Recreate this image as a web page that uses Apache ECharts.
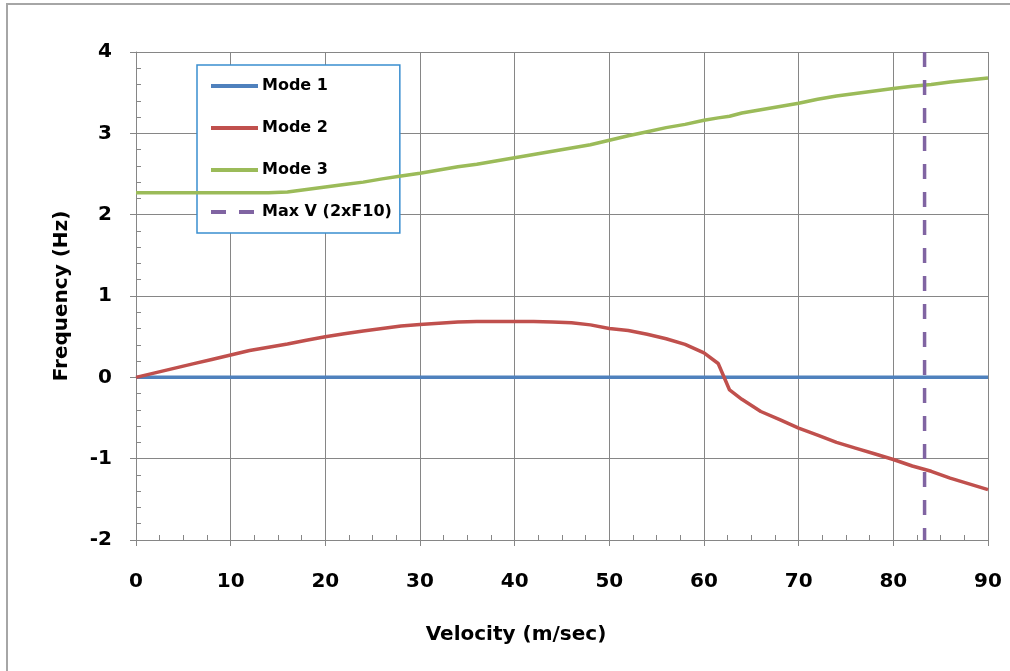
<!DOCTYPE html>
<html lang="en">
  <head>
    <meta charset="UTF-8" />
    <title>Frequency vs Velocity</title>
    <style>
      html,
      body {
        margin: 0;
        padding: 0;
        background: #fff;
      }

      #main {
        width: 1010px;
        height: 671px;
      }
    </style>
  </head>

  <body>
    <div id="main"></div>

    <script src="https://cdn.jsdelivr.net/npm/echarts@6/dist/echarts.min.js"></script>
    <script>
      // velocity samples (m/sec), shared by the three modes
      var velocity = [
        0, 2, 4, 6, 8, 10, 12, 14, 16, 18, 20, 22, 24, 26, 28, 30, 32, 34, 36,
        38, 40, 42, 44, 46, 48, 50, 52, 54, 56, 58, 60, 61.5, 62.7, 64, 66, 68,
        70, 72, 74, 76, 78, 80, 82, 84, 86, 88, 90
      ];
      var mode1 = velocity.map(() => 0);
      var mode2 = [
        0, 0.055, 0.11, 0.165, 0.22, 0.275, 0.33, 0.37, 0.41, 0.455, 0.5, 0.535,
        0.57, 0.6, 0.63, 0.65, 0.665, 0.68, 0.685, 0.685, 0.685, 0.685, 0.68,
        0.67, 0.645, 0.6, 0.575, 0.53, 0.475, 0.405, 0.3, 0.17, -0.155, -0.27,
        -0.42, -0.52, -0.625, -0.71, -0.8, -0.87, -0.94, -1.01, -1.09, -1.155,
        -1.24, -1.31, -1.38
      ];
      var mode3 = [
        2.27, 2.27, 2.27, 2.27, 2.27, 2.27, 2.27, 2.27, 2.28, 2.31, 2.34, 2.37,
        2.4, 2.44, 2.475, 2.51, 2.55, 2.59, 2.62, 2.66, 2.7, 2.74, 2.78, 2.82,
        2.86, 2.915, 2.97, 3.02, 3.07, 3.11, 3.16, 3.19, 3.21, 3.25, 3.29, 3.33,
        3.37, 3.42, 3.46, 3.49, 3.52, 3.55, 3.58, 3.6, 3.63, 3.655, 3.68
      ];
      // max velocity marker (2xF10)
      var maxV = 83.3;
      var maxVRange = [4, -2];

      var FONT = "'DejaVu Sans', sans-serif";
      var GRID_COLOR = "#868686";

      function pairs(ys) {
        return velocity.map((v, i) => [v, ys[i]]);
      }

      var chart = echarts.init(document.getElementById("main"), null, {
        renderer: "canvas"
      });

      chart.setOption({
        animation: false,
        backgroundColor: "#fff",
        textStyle: { fontFamily: FONT },
        graphic: [
          {
            type: "polyline",
            shape: { points: [[7, 672], [7, 4], [1012, 4]] },
            style: { stroke: "#a6a6a6", lineWidth: 2, fill: null },
            silent: true
          }
        ],
        grid: { left: 136, right: 22, top: 52, bottom: 131 },
        legend: {
          orient: "vertical",
          left: 197,
          top: 65,
          padding: [13, 8, 13, 12],
          itemGap: 26,
          itemWidth: 47,
          itemHeight: 16,
          backgroundColor: "#fff",
          borderColor: "#3a8ed0",
          borderWidth: 1.5,
          borderRadius: 0,
          itemStyle: { opacity: 0 },
          lineStyle: { width: 4 },
          textStyle: {
            fontFamily: FONT,
            fontWeight: "bold",
            fontSize: 16,
            color: "#000",
            padding: [0, 0, 0, -1]
          },
          data: ["Mode 1", "Mode 2", "Mode 3", "Max V (2xF10)"]
        },
        xAxis: [
          {
            type: "value",
            min: 0,
            max: 90,
            interval: 10,
            name: "Velocity (m/sec)",
            nameLocation: "middle",
            nameGap: 85,
            nameTextStyle: {
              fontFamily: FONT,
              fontWeight: "bold",
              fontSize: 20,
              color: "#000",
              padding: [0, 92, 0, 0]
            },
            axisLine: {
              onZero: false,
              lineStyle: { color: GRID_COLOR, width: 1 }
            },
            axisTick: { length: 6, lineStyle: { color: GRID_COLOR } },
            axisLabel: {
              margin: 32,
              fontFamily: FONT,
              fontWeight: "bold",
              fontSize: 20,
              color: "#000"
            },
            splitLine: { lineStyle: { color: GRID_COLOR, width: 1 } }
          },
          {
            // minor ticks, drawn inside the plot
            type: "value",
            position: "bottom",
            min: 0,
            max: 90,
            interval: 2.5,
            axisLine: { show: false, onZero: false },
            axisTick: {
              inside: true,
              length: 5,
              lineStyle: { color: GRID_COLOR }
            },
            axisLabel: { show: false },
            splitLine: { show: false }
          }
        ],
        yAxis: [
          {
            type: "value",
            min: -2,
            max: 4,
            interval: 1,
            name: "Frequency (Hz)",
            nameLocation: "middle",
            nameGap: 64,
            nameTextStyle: {
              fontFamily: FONT,
              fontWeight: "bold",
              fontSize: 20,
              color: "#000"
            },
            axisLine: {
              show: true,
              onZero: false,
              lineStyle: { color: GRID_COLOR, width: 1 }
            },
            axisTick: { show: true, length: 6, lineStyle: { color: GRID_COLOR } },
            axisLabel: {
              margin: 24,
              fontFamily: FONT,
              fontWeight: "bold",
              fontSize: 20,
              color: "#000"
            },
            splitLine: { lineStyle: { color: GRID_COLOR, width: 1 } }
          },
          {
            type: "value",
            position: "left",
            min: -2,
            max: 4,
            interval: 0.2,
            axisLine: { show: false, onZero: false },
            axisTick: {
              show: true,
              inside: true,
              length: 5,
              lineStyle: { color: GRID_COLOR }
            },
            axisLabel: { show: false },
            splitLine: { show: false }
          }
        ],
        series: [
          {
            name: "Mode 1",
            type: "line",
            symbol: "none",
            data: pairs(mode1),
            lineStyle: { color: "#4f81bd", width: 3.5 },
            itemStyle: { color: "#4f81bd" },
            z: 3
          },
          {
            name: "Mode 2",
            type: "line",
            symbol: "none",
            data: pairs(mode2),
            lineStyle: { color: "#c0504d", width: 3.5 },
            itemStyle: { color: "#c0504d" },
            z: 4
          },
          {
            name: "Mode 3",
            type: "line",
            symbol: "none",
            data: pairs(mode3),
            lineStyle: { color: "#9bbb59", width: 3.5 },
            itemStyle: { color: "#9bbb59" },
            z: 4
          },
          {
            name: "Max V (2xF10)",
            type: "line",
            symbol: "none",
            data: maxVRange.map(y => [maxV, y]),
            lineStyle: { color: "#8064a2", width: 3.5, type: [15, 13] },
            itemStyle: { color: "#8064a2" },
            z: 5
          }
        ]
      });
    </script>
  </body>
</html>
